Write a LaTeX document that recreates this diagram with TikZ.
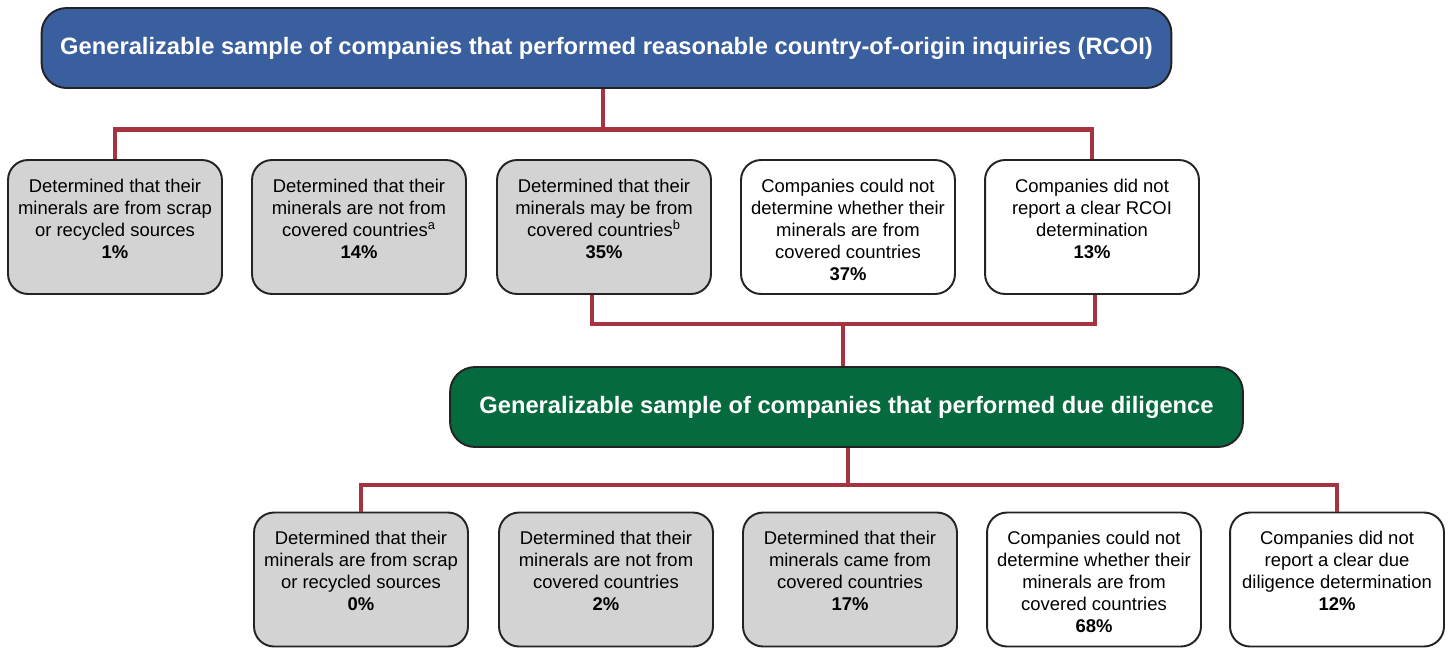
\documentclass[tikz,border=0pt]{standalone}
\usepackage{fontspec}
\setmainfont{Liberation Sans}
\usepackage{tikz}
\definecolor{rcoiblue}{RGB}{58,95,158}
\definecolor{ddgreen}{RGB}{5,106,62}
\definecolor{linkred}{RGB}{166,52,64}
\definecolor{boxgray}{RGB}{211,211,211}
\definecolor{edgegray}{RGB}{35,35,35}
\newcommand{\boxtxt}[1]{\parbox[c][1.92cm][t]{4.2cm}{\centering #1}}

\begin{document}
\begin{tikzpicture}[x=0.02cm,y=-0.02cm,
	titlebox/.style={draw=edgegray, line width=1.1pt, rounded corners=0.5cm, text=white,
		minimum height=1.6cm, inner sep=0pt, font=\fontsize{13.5}{16}\selectfont\bfseries},
	leaf/.style={draw=edgegray, line width=1.1pt, rounded corners=0.4cm, fill=white,
		minimum width=4.28cm, minimum height=2.68cm, inner sep=0pt,
		font=\fontsize{10.5}{12.5}\selectfont},
	leafgray/.style={leaf, fill=boxgray},
	link/.style={draw=linkred, line width=2.3pt}]
			\useasboundingbox (0,0) rectangle (1450,647);
			% top level
			\node[titlebox, fill=rcoiblue, minimum width=22.6cm] (rcoi) at (606.5,48)
				{Generalizable sample of companies that performed reasonable country-of-origin inquiries (RCOI)};
			\node[leafgray] (r1) at (115,227) {\boxtxt{Determined that their\\minerals are from scrap\\or recycled sources\\\textbf{1\%}}};
			\node[leafgray] (r2) at (359,227) {\boxtxt{Determined that their\\minerals are not from\\covered countries\textsuperscript{a}\\\textbf{14\%}}};
			\node[leafgray] (r3) at (604,227) {\boxtxt{Determined that their\\minerals may be from\\covered countries\textsuperscript{b}\\\textbf{35\%}}};
			\node[leaf] (r4) at (848,227) {\boxtxt{Companies could not\\determine whether their\\minerals are from\\covered countries\\\textbf{37\%}}};
			\node[leaf] (r5) at (1092,227) {\boxtxt{Companies did not\\report a clear RCOI\\determination\\\textbf{13\%}}};
			% second level
			\node[titlebox, fill=ddgreen, minimum width=15.86cm] (dd) at (846.5,407)
				{Generalizable sample of companies that performed due diligence};
			\node[leafgray] (d1) at (361,579.5) {\boxtxt{Determined that their\\minerals are from scrap\\or recycled sources\\\textbf{0\%}}};
			\node[leafgray] (d2) at (606,579.5) {\boxtxt{Determined that their\\minerals are not from\\covered countries\\\textbf{2\%}}};
			\node[leafgray] (d3) at (850,579.5) {\boxtxt{Determined that their\\minerals came from\\covered countries\\\textbf{17\%}}};
			\node[leaf] (d4) at (1094,579.5) {\boxtxt{Companies could not\\determine whether their\\minerals are from\\covered countries\\\textbf{68\%}}};
			\node[leaf] (d5) at (1337,579.5) {\boxtxt{Companies did not\\report a clear due\\diligence determination\\\textbf{12\%}}};
			% connectors
			\coordinate (bus1) at (603,129.5);
			\coordinate (bus2) at (843,324);
			\coordinate (bus3) at (848,485);
			\draw[link] (bus1 |- rcoi.south) -- (bus1);
			\draw[link] (r1.north) |- (bus1) -| (r5.north);
			\draw[link] ([xshift=-0.24cm]r3.south) |- (bus2) -| ([xshift=0.06cm]r5.south);
			\draw[link] (bus2) -- (bus2 |- dd.north);
			\draw[link] (bus3 |- dd.south) -- (bus3);
			\draw[link] (d1.north) |- (bus3) -| (d5.north);
		\end{tikzpicture}
\end{document}
